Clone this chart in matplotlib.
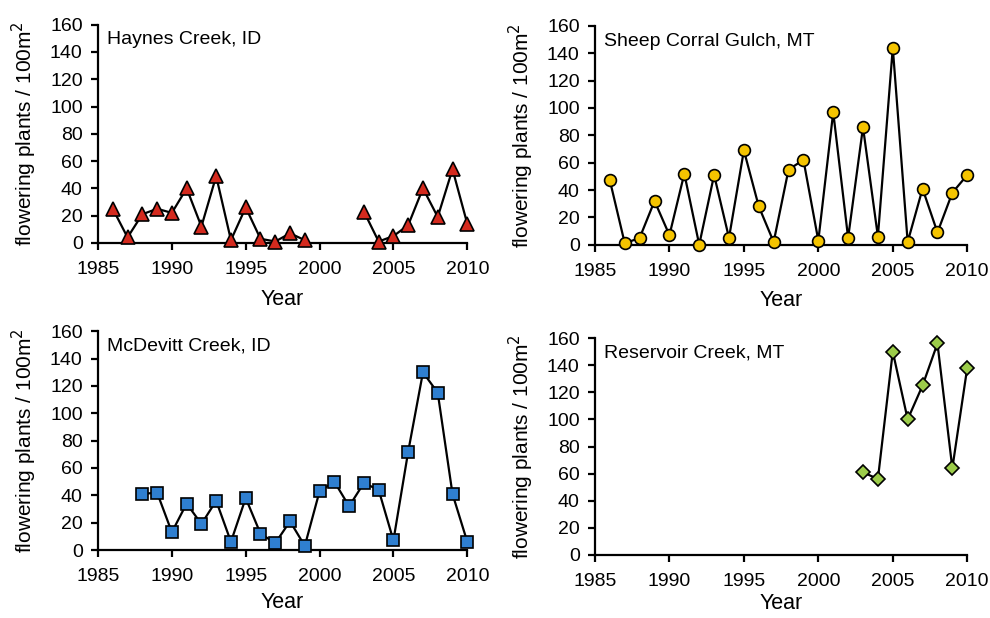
import numpy as np
import matplotlib.pyplot as plt

plt.rcParams['font.family'] = ['Liberation Sans', 'DejaVu Sans']

haynesYears = list(range(1986, 2000)) + [2000, 2001, 2002] + list(range(2003, 2011))
haynesVals = [25, 4, 21, 25, 22, 40, 12, 49, 2, 26, 3, 1, 7, 2,
              None, None, None,
              23, 1, 5, 13, 40, 19, 54, 14]

sheepYears = list(range(1986, 2011))
sheepVals = [47, 1, 5, 32, 7, 52, 0, 51, 5, 69, 28, 2, 55, 62, 3,
             97, 5, 86, 6, 144, 2, 41, 9, 38, 51]

mcdevittYears = list(range(1988, 2011))
mcdevittVals = [41, 42, 13, 34, 19, 36, 6, 38, 12, 5, 21, 3, 43, 50,
                32, 49, 44, 7, 72, 130, 115, 41, 6]

reservoirYears = list(range(2003, 2011))
reservoirVals = [61, 56, 150, 100, 125, 156, 64, 138]

# name, x, y, marker, face colour, marker size, axes rect, xlabel pad
panels = [
    ('Haynes Creek, ID', haynesYears, haynesVals, '^', '#d42a1e', 9.5, [0.099, 0.607, 0.373, 0.353], 8),
    ('Sheep Corral Gulch, MT', sheepYears, sheepVals, 'o', '#f5c400', 8.5, [0.601, 0.604, 0.376, 0.354], 7),
    ('McDevitt Creek, ID', mcdevittYears, mcdevittVals, 's', '#2f7fd0', 8, [0.099, 0.110, 0.373, 0.354], 5),
    ('Reservoir Creek, MT', reservoirYears, reservoirVals, 'D', '#9ccc4a', 7, [0.601, 0.102, 0.376, 0.351], 2),
]

fig = plt.figure(figsize=(9.9, 6.18), dpi=100)

for name, years, vals, mk, col, ms, pos, xpad in panels:
    ax = fig.add_axes(pos)
    y = np.array([np.nan if v is None else v for v in vals], dtype=float)
    ax.plot(years, y, color='black', lw=1.6, marker=mk, markersize=ms,
            markerfacecolor=col, markeredgecolor='black', markeredgewidth=1.2,
            clip_on=False, zorder=3)
    ax.set_xlim(1985, 2010)
    ax.set_ylim(0, 160)
    ax.set_xticks(range(1985, 2011, 5))
    ax.set_yticks(range(0, 161, 20))
    ax.spines['top'].set_visible(False)
    ax.spines['right'].set_visible(False)
    ax.spines['left'].set_linewidth(1.6)
    ax.spines['bottom'].set_linewidth(1.6)
    ax.tick_params(direction='out', length=5, width=1.6, labelsize=14)
    ax.tick_params(axis='x', pad=8)
    ax.tick_params(axis='y', pad=6)
    ax.set_xlabel('Year', fontsize=15.5, labelpad=xpad)
    ax.set_ylabel('flowering plants / 100m$^2$', fontsize=15, labelpad=8)
    ax.text(0.025, 0.97, name, transform=ax.transAxes, fontsize=14,
            ha='left', va='top')

fig.savefig('out.png', dpi=100)
